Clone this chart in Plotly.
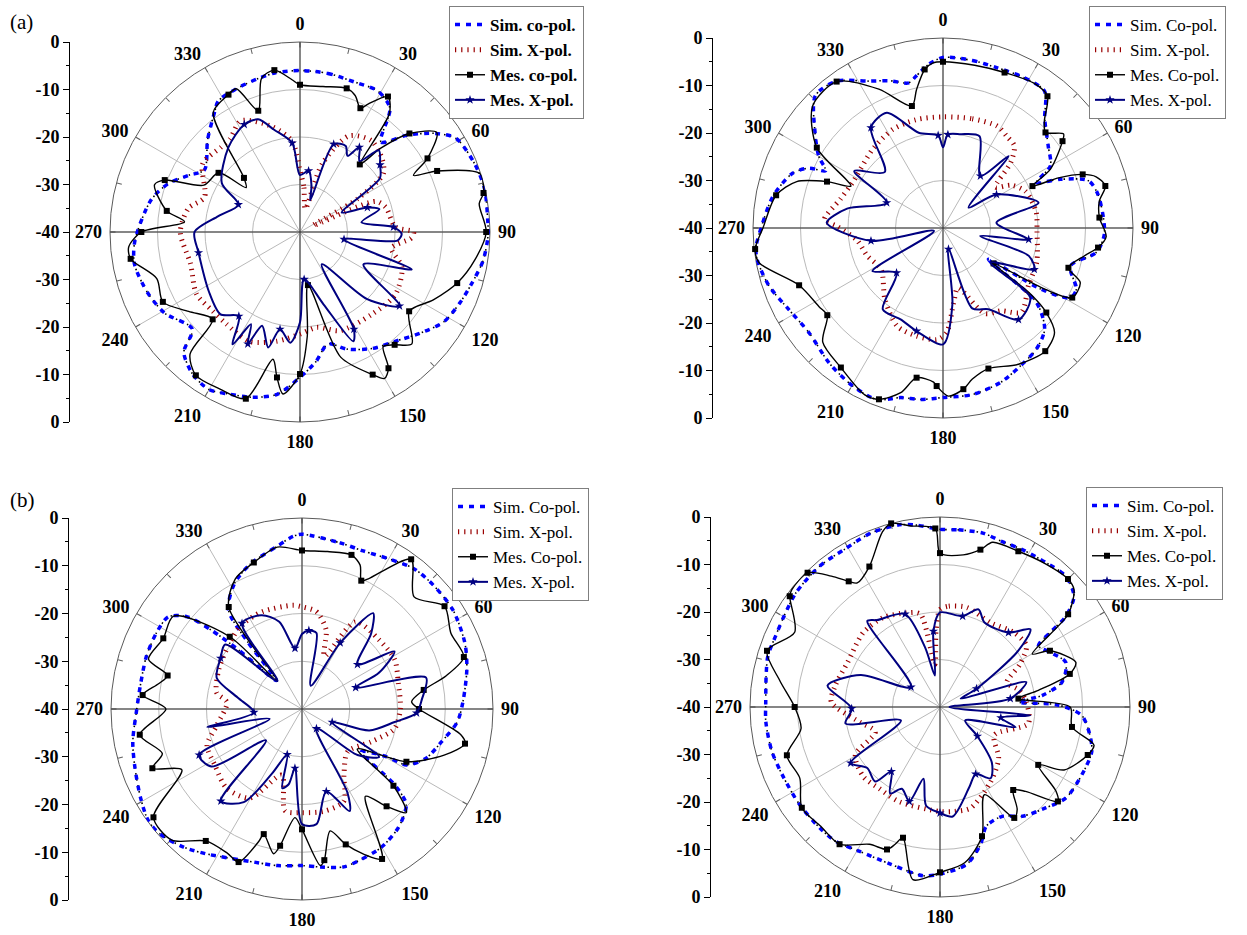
import plotly.graph_objects as go

W, H = 1247, 935

# ---------------- (a) left : radiation pattern ----------------
a1_sim_co_theta = [0, 10, 20, 29, 36, 42, 48, 54, 59, 69, 77, 86, 91, 99, 107, 114, 122, 130, 139, 148, 158, 166, 173,
                   180, 188, 196, 204, 210, 217, 224, 228, 239, 248, 259, 267, 282, 290, 297, 303, 315, 325, 328, 336,
                   345, 351]
a1_sim_co_db = [-6.0, -6.1, -6.4, -6.1, -7.8, -14.5, -9.5, -4.7, -1.7, -0.5, -0.1, -0.4, -0.4, -1.0, -2.3, -3.2, -4.3,
                -6.9, -9.5, -11.1, -13.4, -15.7, -12.5, -9.4, -5.5, -3.8, -2.7, -1.7, -2.5, -4.8, -9.5, -6.8, -5.5,
                -4.5, -5.2, -7.9, -10.4, -13.7, -16.0, -12.5, -8.8, -7.5, -7.0, -6.5, -6.1]
a1_sim_x_theta = [0, 5, 13, 18, 27, 38, 48, 55, 60, 64, 68, 74, 87, 90, 93, 100, 109, 123, 139, 158, 170, 180, 192,
                  205, 219, 228, 239, 254, 270, 282, 290, 305, 317, 323, 332, 345, 355]
a1_sim_x_db = [-27, -30.6, -35, -25, -17.3, -15.6, -16.8, -18.6, -26, -37, -22.8, -21.2, -19.9, -16.1, -16.5, -20.4,
               -17.3, -16, -17, -17.6, -19.6, -18.5, -16.5, -14.6, -15.2, -15.2, -14.6, -16, -14.8, -16, -18.6, -15,
               -15.6, -15.5, -13.5, -17, -20.8]
a1_mes_co_theta = [0, 9, 18, 22, 26, 28, 33, 37, 41.5, 44, 48, 54, 60, 63.5, 66, 72, 78, 81, 90, 99, 108, 117, 126,
                   135, 140, 144, 147, 150, 153, 162, 171.5, 176, 180, 186, 189, 192, 198, 207, 216, 222, 225, 234.5,
                   243, 252, 261, 265, 270, 275, 279, 288, 291, 296, 306, 309.5, 314, 324, 332.5, 336, 341, 346, 351,
                   357]
a1_mes_co_db = [-9.0, -9.0, -8.2, -9.0, -11.0, -9.5, -6.0, -8.7, -21.0, -15.4, -9.0, -4.4, -9.0, -13.3, -8.4, -0.2,
                -0.5, -1.8, -0.8, -2.7, -5.2, -8.5, -11.6, -6.7, -9.0, -10.2, -5.8, -4.4, -6.3, -12.3, -28.7, -18.0,
                -10.1, -5.7, -9.0, -12.6, -3.1, -2.9, -2.7, -5.4, -14.0, -11.2, -7.6, -8.3, -3.9, -3.8, -6.6, -15.6,
                -11.6, -7.8, -9.5, -17.5, -18.8, -25.3, -23.6, -8.9, -7.4, -7.0, -13.0, -6.6, -5.5, -7.9]
a1_mes_x_theta = [0, 8, 14, 18, 21, 28, 32, 35, 40, 44, 50, 56, 65, 70, 74, 81, 87, 91, 95, 99.5, 108.5, 117, 126.6,
                  135, 146, 151, 154, 162, 175, 180, 185, 191.6, 195.4, 202, 205, 208, 211, 216, 224, 237, 258.5, 270,
                  281, 294, 302, 319.6, 332.6, 339.6, 345.8, 355]
a1_mes_x_db = [-28, -27, -30, -33, -20.2, -19.5, -21.1, -18.2, -20.5, -16.1, -18, -19.7, -30.3, -24.9, -22.6, -26.9,
               -20.3, -18.6, -19.4, -30.6, -15.2, -25, -13.9, -20, -31.8, -16.6, -14.4, -24, -30, -21, -16.6, -19.1,
               -14.8, -18.7, -14, -18, -12.4, -18.1, -15.9, -17.1, -18.2, -17.8, -22.5, -25.8, -20.6, -16.7, -14.5,
               -14.7, -17.8, -21.2]

# ---------------- (a) right ----------------
a2_sim_co_theta = [0, 10, 18.5, 27, 36.5, 43, 52, 60, 64, 67.5, 72, 78, 92, 99, 106.6, 114.7, 118.7, 122, 124.6,
                   128.6, 134.9, 142.4, 150.7, 159.6, 170, 180, 187.4, 194, 201, 209.7, 220, 232, 242, 251.6, 260.4,
                   264, 270, 280.6, 290, 294, 296, 300, 306.7, 316, 324, 333, 340, 346.7, 350, 355]
a2_sim_co_db = [-4.1, -4.2, -4.4, -4.1, -4.1, -8.6, -11.9, -13.9, -18.1, -13.2, -7.8, -6.6, -6, -7.3, -12, -9.1, -9.4,
                -15.8, -28.4, -14.8, -9.8, -7.8, -6.7, -5.3, -4.4, -4.3, -3.6, -3.2, -1.3, -1.7, -2.8, -4.2, -3.3,
                -1.4, -0.3, -0.4, -1.7, -3.6, -6.3, -9, -12.5, -9.8, -6.4, -1.3, -1.8, -5.3, -7, -8.6, -7.5, -5.4]
a2_sim_x_theta = [0, 15, 28, 35, 41, 46, 52, 58, 66, 80, 92, 110, 124, 137, 145, 154, 166, 172, 178, 183, 194, 205,
                  219, 236, 250, 262, 271, 274, 286, 297, 318, 333, 346]
a2_sim_x_db = [-16.6, -16.2, -15.7, -16.5, -17.1, -20.2, -26, -23, -21, -20.1, -20.2, -19, -18.3, -15.8, -18.7, -20,
               -27, -24, -18, -16.5, -16.6, -17.2, -20.6, -24.3, -23, -21.7, -17.6, -15, -17.6, -18.7, -17.8, -16.7,
               -16.5]
a2_mes_co_theta = [0, 11, 21.6, 32.3, 38.4, 43.5, 47, 52, 54, 61.3, 64.9, 66.5, 69, 71.5, 75.5, 80.2, 86.2, 93, 97.2,
                   101.2, 107.6, 111.7, 118.3, 121, 125, 127, 129.3, 133.2, 140.3, 151, 162.1, 169, 172.8, 178.2,
                   182.3, 183.5, 190, 194.4, 200.5, 205.1, 216.2, 226.5, 233, 237.6, 248.3, 259.3, 263.6, 270, 281.1,
                   287.6, 291.8, 294.5, 302.5, 313.1, 324, 335.2, 345.7, 349.2, 353.4, 356.4]
a2_mes_co_db = [-5.0, -5.1, -4.8, -4.0, -4.6, -9.0, -10.5, -7.8, -8.9, -14.2, -19.2, -13.5, -8.5, -6.0, -4.7, -6.6,
                -7.0, -5.6, -7.1, -9.7, -12.3, -8.9, -9.1, -15, -27, -17, -11.9, -7.8, -6.3, -7.2, -8.9, -7.6, -5.8,
                -4.6, -6.7, -7.5, -8, -4.2, -1.5, -1.2, -3.6, -5.1, -9.5, -9.1, -7.4, -0.6, -0.2, -2.1, -4.2, -7.7,
                -13.7, -18.7, -8.5, -2.4, -1.9, -7.8, -13.5, -10.3, -6.4, -5.2]
a2_mes_x_theta = [0, 3, 10.6, 21.7, 35.7, 42.3, 51.4, 57.9, 75.2, 84.3, 97.6, 102, 108, 114.4, 126, 128.6, 140.5,
                  150.8, 160, 165.5, 173, 180, 194.4, 204.9, 216.5, 226, 238.6, 252, 259.9, 272.6, 281.4, 294.2,
                  302.7, 313.9, 324.3, 334, 345.7, 357]
a2_mes_x_db = [-23, -20.3, -19.9, -19.2, -26.5, -19.5, -33.1, -26.7, -19.2, -28.7, -21.8, -32, -21, -18.9, -27.6,
               -16.5, -15, -20.4, -22, -35.4, -23.8, -15.5, -17.6, -18.8, -18.7, -26.4, -22.6, -38, -24.6, -15.5,
               -19.4, -27, -17.8, -23, -14, -13, -19.3, -20.5]

# ---------------- (b) left ----------------
b1_sim_co_theta = [0, 12.8, 21.2, 30.6, 38.7, 46.8, 56.8, 68, 76.5, 87.7, 94.9, 103.3, 111.8, 118.2, 119.5, 125.8,
                   129.3, 132.5, 140.9, 150.3, 159.2, 165.2, 173.4, 180, 189, 197.4, 213.2, 220.6, 228.6, 233.9,
                   241.1, 250.5, 259, 270, 279.3, 288.7, 297.5, 304.6, 308.8, 311, 313, 318, 321, 323.4, 331.6, 340.3,
                   351.4, 357]
b1_sim_co_db = [-3.4, -4.3, -4.5, -3.6, -2.4, -2.2, -2.2, -3.2, -4.5, -6.3, -7.4, -10, -12.1, -15.2, -19.8, -24.7,
                -14.9, -10.4, -8, -6.6, -6.1, -5.8, -6.7, -7.2, -6.8, -6.4, -3.7, -1.9, -0.4, -0.2, -1.4, -2.9, -3.9,
                -5.4, -5.8, -5.6, -5.6, -6, -9.2, -14.8, -22, -32, -22, -14.2, -10.2, -7.8, -5.5, -3.8]
b1_sim_x_theta = [0, 8.5, 17, 23, 31.5, 48, 61.9, 74.7, 90, 102, 115.4, 133, 147.6, 155.6, 167.6, 180, 189.4, 197,
                  210.3, 223.6, 237.3, 249, 259, 275, 280.9, 295.4, 308, 323.1, 337.5, 355]
b1_sim_x_db = [-18.6, -19.4, -22.7, -28, -18.6, -18.3, -18, -19.1, -19.4, -20.2, -24, -26.9, -23.6, -18.8, -18.1,
               -18.3, -18.4, -25.5, -18.4, -17.1, -18.3, -18.7, -21.8, -24.2, -21.8, -20.7, -19.9, -18.4, -18, -18.2]
b1_mes_co_theta = [0, 9.2, 17.8, 22, 24.8, 27, 36.1, 45, 54.2, 63, 72.2, 77, 81.1, 86.2, 90, 99.2, 102, 108, 116.8,
                   125.9, 130, 134.8, 139, 144, 151.9, 157, 162.1, 167, 171.6, 173.3, 180, 183.7, 189.1, 191.1, 197,
                   198.1, 202.5, 207.4, 216.1, 224.8, 233.9, 243.2, 248.4, 252.3, 261, 270, 275, 280, 284, 288, 297,
                   305.9, 315, 318.5, 324.3, 332.8, 341.8, 351.3]
b1_mes_co_db = [-6.8, -6.6, -6.1, -7.5, -10.4, -9.4, -1.2, -6.8, -3.2, -5, -4.4, -9, -14.2, -17, -15.5, -6.3, -5.1,
                -8.7, -15.5, -25.7, -15, -9.2, -13, -17.4, -4.4, -7, -10.2, -13.8, -8, -7, -14.8, -17.2, -11, -9.1,
                -12.6, -10.8, -5.3, -6, -5.8, -1.3, -1.5, -11.8, -6.3, -9.3, -5.6, -11.5, -6.5, -9.5, -11, -6.2,
                -7.4, -6.8, -18.6, -32, -13.7, -9.4, -7.7, -5.7]
b1_mes_x_theta = [0, 5, 10.8, 20.4, 30, 36.6, 42.4, 51.2, 58.1, 64.8, 68.2, 75.8, 85.3, 92, 98, 107.7, 113.7, 121.8,
                  129.7, 143.6, 151.5, 155, 163.6, 172.8, 180, 186.8, 190, 194, 198, 205, 212, 221.4, 229, 237.6,
                  245.9, 253, 259.2, 266, 280.1, 290, 302, 310, 318.7, 325, 336.7, 345.4, 353.4]
b1_mes_x_db = [-24.3, -23.5, -23.8, -34.8, -24, -15, -18.5, -25.1, -17.2, -22.2, -27.9, -13.2, -14.8, -16, -20.4,
               -25.2, -33.1, -21, -24.9, -34.9, -20, -16.4, -22, -15.7, -15.9, -27.5, -24, -22.9, -30, -25, -17,
               -14.3, -30, -17.5, -16.4, -32.9, -19.8, -29.9, -26.3, -21, -19.9, -19, -32.2, -18.1, -18.6, -21.1,
               -27.2]

# ---------------- (b) right ----------------
b2_sim_co_theta = [0, 6, 13.8, 20.6, 27.6, 36.4, 43.9, 50.4, 54.2, 55.9, 58.1, 63.6, 70.5, 78.5, 83.5, 86.4, 89, 93.4,
                   100.6, 106.4, 115.5, 125.8, 133.5, 143, 150.3, 158.7, 163.6, 170.4, 180, 185.8, 197.3, 209.3,
                   217.9, 224.9, 235.1, 245.5, 255.1, 265.1, 271.4, 280.3, 286.6, 293.5, 300.2, 308.4, 319.4, 328.5,
                   338.4, 347.4, 352.2]
b2_sim_co_db = [-2.6, -2.5, -2.3, -2.8, -2.6, -2.3, -1.8, -3.4, -7.3, -12, -15.6, -14.1, -11.9, -13.8, -18.3, -23.5,
                -15.2, -10.1, -7.9, -6.7, -6.9, -7.3, -9.2, -11.2, -13.5, -13.1, -9.8, -6.4, -4.8, -4.3, -5.3, -5.2,
                -4.2, -4.1, -4, -3.9, -3.4, -3.2, -3.3, -2.8, -2.2, -2.3, -2, -1.3, -1, -1.2, -0.6, -0.7, -1.3]
b2_sim_x_theta = [0, 5, 15, 30.9, 44.9, 54.7, 62, 70, 78, 86.7, 100.6, 117.3, 131.2, 145.8, 163.1, 172, 180, 203.4,
                  216.8, 227.8, 240.4, 249, 259.6, 272.6, 281.6, 295.8, 314.1, 327.5, 340.7, 348, 353, 357]
b2_sim_x_db = [-19.5, -18.7, -18.3, -19.3, -17.9, -17.7, -21, -25, -23, -21.8, -21.1, -27.1, -23.6, -21, -17.8,
               -17.8, -18, -18.3, -18.6, -18.2, -19.5, -25.4, -22.7, -17.1, -17.5, -18.4, -17.5, -17.7, -19, -20, -31,
               -24]
b2_mes_co_theta = [0, 8.7, 14.4, 17.7, 26.7, 35.9, 45, 48.8, 54.1, 60.1, 62.9, 71.8, 75.7, 80.4, 83.9, 90, 98.6,
                   103.9, 108, 116.9, 120.5, 126, 128.7, 134.6, 138.6, 143, 146.2, 153.1, 162, 171, 180, 188.9, 195.8,
                   198.1, 200.4, 207.2, 216.2, 225, 233.9, 243.1, 252.5, 261.2, 270, 279.4, 288, 297.2, 306.4, 308.4,
                   315.4, 320.3, 324, 326.3, 333.3, 341.8, 345.1, 350.9, 358.5]
b2_mes_co_db = [-7.6, -7.6, -5.8, -3.6, -3.3, -2.6, -1.9, -2.5, -6.7, -17.6, -14, -9.9, -11.8, -19, -23.4, -12.6,
                -11.9, -6.6, -7.3, -10.7, -16, -9.8, -8.2, -14.7, -16.7, -13, -11.9, -19.3, -11.4, -6.8, -5.2, -3.2,
                -11.4, -9.6, -8, -7.5, -4.2, -4.5, -4, -6.9, -6.2, -10.4, -9.4, -5.8, -1.7, -5.6, -0.7, -0.2, -0.3,
                -4.2, -7.3, -8.6, -6.9, -1.2, 0, -1.4, -2.4]
b2_mes_x_theta = [0, 14, 21.5, 27.8, 42.6, 49.3, 54.3, 63.4, 68, 73.9, 83.2, 90, 95.3, 100, 105, 118, 128, 137,
                  144.6, 152, 160, 173.4, 180, 188, 193, 198, 205, 210, 217, 221, 230, 237.9, 251, 260.1, 269, 280.8,
                  292, 304.5, 319.8, 324.1, 339.4, 345.9, 350.8, 355]
b2_mes_x_db = [-20.1, -20.3, -17.9, -19.9, -18.7, -14.9, -19.7, -31.4, -35.3, -21.1, -25.1, -38, -20.9, -27, -23.5,
               -34, -30, -24, -21.6, -24, -22, -16.8, -17.7, -19, -24.5, -19.1, -21, -19, -23, -19.2, -20, -17.8,
               -31.3, -19.8, -21.4, -15.9, -22, -32.6, -16.3, -17.4, -19.1, -27, -33.3, -24]

# angular labels and the left-hand dB scale
angle_major = list(range(0, 360, 30))
angle_minor = list(range(0, 360, 15))
db_scale_pos = [-40, -30, -20, -10, 0, 10, 20, 30, 40]
db_scale_text = ["0", "-10", "-20", "-30", "-40", "-30", "-20", "-10", "0"]

legend_names_lower = ["Sim. co-pol.", "Sim. X-pol.", "Mes. co-pol.", "Mes. X-pol."]
legend_names_upper = ["Sim. Co-pol.", "Sim. X-pol.", "Mes. Co-pol.", "Mes. X-pol."]

# panel geometry in pixels: centre x, centre y, radius, x of the dB scale, legend left/top
panels = [
    dict(cx=300, cy=232, r=190, ax=70, lx=449, ly=6, bold=True, names=legend_names_lower,
         data=[(a1_sim_co_theta, a1_sim_co_db), (a1_sim_x_theta, a1_sim_x_db),
               (a1_mes_co_theta, a1_mes_co_db), (a1_mes_x_theta, a1_mes_x_db)]),
    dict(cx=943, cy=228, r=190, ax=713, lx=1089, ly=6, bold=False, names=legend_names_upper,
         data=[(a2_sim_co_theta, a2_sim_co_db), (a2_sim_x_theta, a2_sim_x_db),
               (a2_mes_co_theta, a2_mes_co_db), (a2_mes_x_theta, a2_mes_x_db)]),
    dict(cx=302, cy=709, r=191, ax=69, lx=452, ly=488, bold=False, names=legend_names_upper,
         data=[(b1_sim_co_theta, b1_sim_co_db), (b1_sim_x_theta, b1_sim_x_db),
               (b1_mes_co_theta, b1_mes_co_db), (b1_mes_x_theta, b1_mes_x_db)]),
    dict(cx=940, cy=707, r=190, ax=711, lx=1086, ly=487, bold=False, names=legend_names_upper,
         data=[(b2_sim_co_theta, b2_sim_co_db), (b2_sim_x_theta, b2_sim_x_db),
               (b2_mes_co_theta, b2_mes_co_db), (b2_mes_x_theta, b2_mes_x_db)]),
]

SERIF = "Liberation Serif"
GRID = "#b9b9b9"


def closed(theta, db):
    return list(theta) + [theta[0] + 360], list(db) + [db[0]]


def pname(k):
    return "polar" if k == 1 else f"polar{k}"


fig = go.Figure()
layout = dict(width=W, height=H, margin=dict(l=0, r=0, t=0, b=0), autosize=False,
              template="none", paper_bgcolor="white", plot_bgcolor="rgba(0,0,0,0)",
              font=dict(family=SERIF, color="black"), annotations=[])

for i, p in enumerate(panels):
    cx, cy, rad = p["cx"], p["cy"], p["r"]
    dom = dict(x=[(cx - rad) / W, (cx + rad) / W], y=[1 - (cy + rad) / H, 1 - (cy - rad) / H])
    pa, pb, pc = pname(3 * i + 1), pname(3 * i + 2), pname(3 * i + 3)
    tick_font = dict(family=SERIF, size=18, color="black", weight="bold")

    # frame: outer circle, 30 degree spokes with labels, dB circles
    layout[pa] = dict(
        domain=dom, bgcolor="white",
        angularaxis=dict(rotation=90, direction="clockwise", tickmode="array", tickvals=angle_major,
                         ticktext=[str(a) for a in angle_major], tickfont=tick_font, ticks="outside",
                         ticklen=4, tickcolor="rgba(0,0,0,0)", showgrid=True, gridcolor=GRID, gridwidth=1,
                         linecolor="#5a5a5a", linewidth=1),
        radialaxis=dict(range=[-40, 0], tickvals=[-30, -20, -10, 0], showticklabels=False, ticks="",
                        showline=False, gridcolor=GRID, gridwidth=1))
    # short inward ticks every 15 degrees
    layout[pb] = dict(
        domain=dom, bgcolor="rgba(0,0,0,0)",
        angularaxis=dict(rotation=90, direction="clockwise", tickmode="array", tickvals=angle_minor,
                         showticklabels=False, ticks="inside", ticklen=5, tickcolor="#606060",
                         showline=False, showgrid=False),
        radialaxis=dict(visible=False, range=[-40, 0]))
    # main axes cross and the data
    layout[pc] = dict(
        domain=dom, bgcolor="rgba(0,0,0,0)",
        angularaxis=dict(rotation=90, direction="clockwise", tickmode="array", tickvals=[0, 90, 180, 270],
                         showticklabels=False, ticks="", showline=False, gridcolor="#303030", gridwidth=1),
        radialaxis=dict(visible=False, range=[-40, 0]))

    # the frame subplots need a (blank) trace each to be drawn
    for sp in (pa, pb):
        fig.add_trace(go.Scatterpolar(r=[], theta=[], mode="lines", subplot=sp, showlegend=False,
                                      hoverinfo="skip"))

    leg = "legend" if i == 0 else f"legend{i + 1}"
    layout[leg] = dict(x=p["lx"] / W, y=1 - p["ly"] / H, xanchor="left", yanchor="top",
                       bgcolor="white", bordercolor="#7f7f7f", borderwidth=1, tracegroupgap=0,
                       itemwidth=30,
                       font=dict(family=SERIF, size=17, color="black",
                                 weight="bold" if p["bold"] else "normal"))

    (t_sc, r_sc), (t_sx, r_sx), (t_mc, r_mc), (t_mx, r_mx) = p["data"]
    names = p["names"]
    spline = dict(shape="spline", smoothing=0.8)

    t, r = closed(t_sc, r_sc)
    fig.add_trace(go.Scatterpolar(theta=t, r=r, mode="lines", subplot=pc, showlegend=False, hoverinfo="skip",
                                  line=dict(color="black", width=1.6, dash="1.5px,4.5px", **spline)))
    fig.add_trace(go.Scatterpolar(theta=t, r=r, mode="lines", subplot=pc, name=names[0], legend=leg,
                                  line=dict(color="#0000ff", width=3.5, dash="5px,6px", **spline)))

    t, r = closed(t_sx, r_sx)
    fig.add_trace(go.Scatterpolar(theta=t, r=r, mode="lines", subplot=pc, name=names[1], legend=leg,
                                  line=dict(color="#9a0000", width=5, dash="1.2px,5px", **spline)))

    t, r = closed(t_mc, r_mc)
    fig.add_trace(go.Scatterpolar(theta=t, r=r, mode="lines+markers", subplot=pc, name=names[2], legend=leg,
                                  line=dict(color="black", width=1.4, **spline),
                                  marker=dict(symbol="square", size=6, color="black"),
                                  selectedpoints=list(range(0, len(t_mc), 2)),
                                  selected=dict(marker=dict(opacity=1)),
                                  unselected=dict(marker=dict(opacity=0))))

    t, r = closed(t_mx, r_mx)
    fig.add_trace(go.Scatterpolar(theta=t, r=r, mode="lines+markers", subplot=pc, name=names[3], legend=leg,
                                  line=dict(color="#000080", width=2, **spline),
                                  marker=dict(symbol="star", size=7, color="#000080"),
                                  selectedpoints=list(range(1, len(t_mx), 3)),
                                  selected=dict(marker=dict(opacity=1)),
                                  unselected=dict(marker=dict(opacity=0))))

    # vertical dB scale on the left of each pattern
    xa = "xaxis" if i == 0 else f"xaxis{i + 1}"
    ya = "yaxis" if i == 0 else f"yaxis{i + 1}"
    xr = "x" if i == 0 else f"x{i + 1}"
    yr = "y" if i == 0 else f"y{i + 1}"
    layout[xa] = dict(domain=[p["ax"] / W, (p["ax"] + 10) / W], visible=False, range=[0, 1], anchor=yr)
    layout[ya] = dict(domain=dom["y"], anchor=xr, range=[-40, 40], tickmode="array", tickvals=db_scale_pos,
                      ticktext=db_scale_text, showline=True, linecolor="black", linewidth=1, ticks="outside",
                      ticklen=6, tickcolor="black", showgrid=False, zeroline=False, tickfont=tick_font,
                      minor=dict(dtick=5, ticks="outside", ticklen=3, tickcolor="black", showgrid=False))
    fig.add_trace(go.Scatter(x=[], y=[], xaxis=xr, yaxis=yr, showlegend=False, hoverinfo="skip"))

layout["annotations"] = [
    dict(text="(a)", x=8 / W, y=1 - 22 / H, xref="paper", yref="paper", xanchor="left", yanchor="middle",
         showarrow=False, font=dict(family=SERIF, size=21, color="black")),
    dict(text="(b)", x=8 / W, y=1 - 500 / H, xref="paper", yref="paper", xanchor="left", yanchor="middle",
         showarrow=False, font=dict(family=SERIF, size=21, color="black")),
]

fig.update_layout(**layout)
fig.write_html("out.html")
